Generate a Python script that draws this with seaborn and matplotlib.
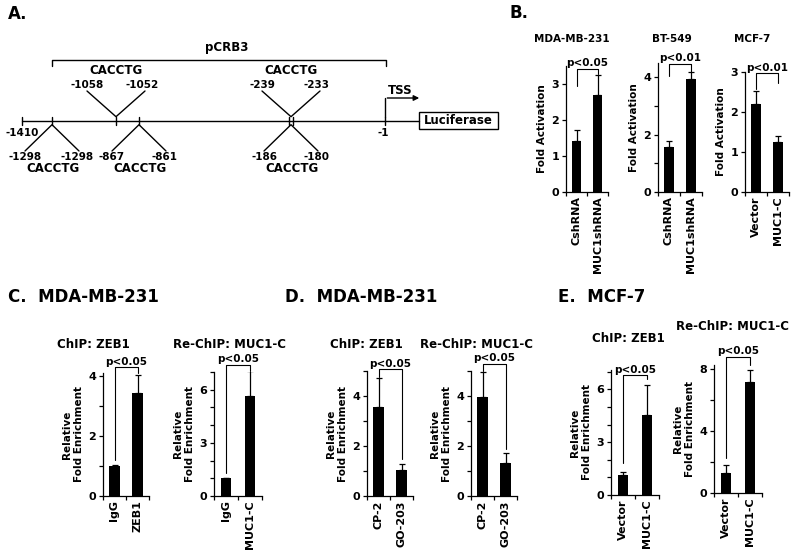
import matplotlib
matplotlib.use("Agg")
import matplotlib.pyplot as plt
import seaborn as sns
import pandas as pd

# ---- data ----
# A: CACCTG sites in the CRB3 promoter (pairs of start/end)
site_left = [-1298, -1058, -867, -239, -186]
site_right = [-1298, -1052, -861, -233, -180]
site_side = ["down", "up", "down", "up", "down"]
motif = "CACCTG"
promoter_ends = [-1410, -1]

# B: luciferase activity
b_titles = ["MDA-MB-231", "BT-549", "MCF-7"]
b_groups = [["CshRNA", "MUC1shRNA"], ["CshRNA", "MUC1shRNA"], ["Vector", "MUC1-C"]]
b_means = [[1.43, 2.70], [1.57, 3.93], [2.21, 1.24]]
b_errs = [[0.29, 0.56], [0.22, 0.26], [0.32, 0.17]]
b_p = ["p<0.05", "p<0.01", "p<0.01"]

# C-E: ChIP / Re-ChIP
chip_titles = ["ChIP: ZEB1", "Re-ChIP: MUC1-C"]
c_groups = [["IgG", "ZEB1"], ["IgG", "MUC1-C"]]
c_means = [[1.0, 3.43], [1.0, 5.65]]
c_errs = [[0.02, 0.60], [0.02, 1.40]]
d_groups = [["CP-2", "GO-203"], ["CP-2", "GO-203"]]
d_means = [[3.56, 1.05], [3.96, 1.31]]
d_errs = [[1.17, 0.25], [1.00, 0.40]]
e_groups = [["Vector", "MUC1-C"], ["Vector", "MUC1-C"]]
e_means = [[1.13, 4.55], [1.27, 7.15]]
e_errs = [[0.20, 1.68], [0.53, 0.80]]
chip_p = "p<0.05"

sns.set_style("ticks")
plt.rcParams["font.family"] = ["DejaVu Sans"]
plt.rcParams["font.weight"] = "bold"
plt.rcParams["axes.labelweight"] = "bold"
plt.rcParams["axes.linewidth"] = 0.9
for key in ["text.color", "axes.labelcolor", "xtick.color", "ytick.color", "axes.edgecolor"]:
    plt.rcParams[key] = "black"

W, H = 800, 558
fig = plt.figure(figsize=(8, 5.58), dpi=100)


def box(x0, y0, x1, y1):
    return [x0 / W, 1 - y1 / H, (x1 - x0) / W, (y1 - y0) / H]


def label(x, y, s, size, **kw):
    fig.text(x / W, 1 - y / H, s, fontsize=size, fontweight="bold", va="center", **kw)


def bar_panel(rect, groups, means, errs, ymax, yticks, ylabels, ylabel, bracket, ptext):
    ax = fig.add_axes(box(*rect))
    df = pd.DataFrame({"group": groups, "value": means})
    sns.barplot(data=df, x="group", y="value", color="black", width=0.45,
                errorbar=None, saturation=1, linewidth=0, ax=ax)
    ax.errorbar(df.index, df["value"], yerr=[[0, 0], errs], fmt="none",
                ecolor="black", elinewidth=0.9, capsize=2.5, capthick=0.9)
    ax.set_xlim(-0.5, 1.5)
    ax.set_ylim(0, ymax)
    ax.set_xticks([0, 1])
    ax.set_xticklabels(groups, rotation=90, fontsize=8, fontweight="bold")
    ax.set_xticks([-0.5, 0.5, 1.5], minor=True)
    ax.tick_params(axis="x", which="major", length=0, pad=3)
    ax.tick_params(axis="x", which="minor", length=3, width=0.9)
    ax.set_yticks(yticks)
    ax.set_yticklabels(ylabels, fontsize=8, fontweight="bold")
    ax.tick_params(axis="y", length=3, width=0.9, pad=2)
    ax.set_xlabel("")
    ax.set_ylabel(ylabel, fontsize=7.5, labelpad=3)
    sns.despine(ax=ax)
    lb, top, rb = bracket
    ax.plot([0, 0, 1, 1], [lb, top, top, rb], color="black", lw=0.8, clip_on=False)
    ax.annotate(ptext, xy=(0.5, top), xytext=(0, 0.5), textcoords="offset points",
                ha="center", va="bottom", fontsize=7.5, fontweight="bold",
                annotation_clip=False)
    return ax


# ---- panel A: promoter schematic (drawn in pixel units) ----
axA = fig.add_axes([0, 0, 1, 1], zorder=-1)
axA.set_xlim(0, W)
axA.set_ylim(H, 0)
axA.axis("off")
k = dict(color="black", lw=1.0)
line_y = 120.7
axA.plot([22, 419], [line_y, line_y], **k)
for tx in [22, 52, 116, 139, 289, 293, 385]:
    axA.plot([tx, tx], [116.5, 125], **k)
axA.text(22, 133, str(promoter_ends[0]), ha="center", va="center", fontsize=7.5, fontweight="bold")
axA.text(383, 133, str(promoter_ends[1]), ha="center", va="center", fontsize=7.5, fontweight="bold")

site_px = [52, 116, 139, 291, 291]
for sx, side, l, r in zip(site_px, site_side, site_left, site_right):
    if side == "up":
        axA.plot([sx - 29, sx, sx + 29], [91, line_y - 4, 91], **k)
        axA.text(sx - 29, 85, str(l), ha="center", va="center", fontsize=7.5, fontweight="bold")
        axA.text(sx + 26, 85, str(r), ha="center", va="center", fontsize=7.5, fontweight="bold")
        axA.text(sx, 70, motif, ha="center", va="center", fontsize=8.5, fontweight="bold")
    else:
        axA.plot([sx - 27, sx, sx + 27], [151, line_y + 4, 151], **k)
        axA.text(sx - 27, 157, str(l), ha="center", va="center", fontsize=7.5, fontweight="bold")
        axA.text(sx + 25, 157, str(r), ha="center", va="center", fontsize=7.5, fontweight="bold")
        axA.text(sx + 1, 169, motif, ha="center", va="center", fontsize=8.5, fontweight="bold")

axA.plot([52, 52, 386, 386], [65.5, 60, 60, 65.5], **k)
axA.text(227, 47, "pCRB3", ha="center", va="center", fontsize=8.5, fontweight="bold")
axA.plot([385, 385], [line_y - 4, 98], **k)
axA.annotate("", xy=(422, 98), xytext=(384.5, 98),
             arrowprops=dict(arrowstyle="-|>", color="black", lw=1.0, mutation_scale=8))
axA.text(400, 90, "TSS", ha="center", va="center", fontsize=8.5, fontweight="bold")
axA.add_patch(plt.Rectangle((419, 112), 79, 16.5, fill=False, ec="black", lw=1.0))
axA.text(458.5, 120.5, "Luciferase", ha="center", va="center", fontsize=8.5, fontweight="bold")

# ---- panel B ----
b_rects = [(566, 66, 608, 192), (658, 63, 702, 192), (745, 72, 789, 192)]
b_ymax = [3.5, 4.5, 3.0]
b_ticks = [[0, 1, 2, 3], [0, 1, 2, 3, 4], [0, 1, 2, 3]]
b_ticklabels = [["0", "1", "2", "3"], ["0", "", "2", "", "4"], ["0", "1", "2", "3"]]
b_brackets = [(2.95, 3.43, 3.28), (4.05, 4.46, 4.2), (2.58, 2.97, 2.73)]
for i in range(3):
    bar_panel(b_rects[i], b_groups[i], b_means[i], b_errs[i], b_ymax[i], b_ticks[i],
              b_ticklabels[i], "Fold Activation", b_brackets[i], b_p[i])
for x, t in zip([572, 672, 752], b_titles):
    label(x, 39, t, 7.5, ha="center")

# ---- panels C, D, E ----
ylab = "Relative\nFold Enrichment"
panels = [
    # rect, groups, means, errs, ymax, ticks, labels, bracket
    ((103, 373, 149, 496), c_groups[0], c_means[0], c_errs[0], 4.1,
     [0, 1, 2, 3, 4], ["0", "", "2", "", "4"], (1.2, 4.29, 4.09)),
    ((214, 372, 262, 496), c_groups[1], c_means[1], c_errs[1], 7.0,
     list(range(8)), ["0", "", "", "3", "", "", "6", ""], (1.28, 7.4, 7.04)),
    ((367, 371, 413, 496), d_groups[0], d_means[0], d_errs[0], 5.0,
     list(range(6)), ["0", "", "2", "", "4", ""], (4.77, 5.07, 1.5)),
    ((471, 371, 517, 496), d_groups[1], d_means[1], d_errs[1], 5.0,
     list(range(6)), ["0", "", "2", "", "4", ""], (4.99, 5.28, 1.9)),
    ((611, 370, 659, 495), e_groups[0], e_means[0], e_errs[0], 7.1,
     list(range(8)), ["0", "", "", "3", "", "", "6", ""], (1.8, 6.8, 6.6)),
    ((714, 365, 762, 493), e_groups[1], e_means[1], e_errs[1], 8.25,
     [0, 2, 4, 6, 8], ["0", "", "4", "", "8"], (2.25, 8.76, 8.26)),
]
for rect, g, m, e, ymax, ticks, tl, br in panels:
    bar_panel(rect, g, m, e, ymax, ticks, tl, ylab, br, chip_p)

title_pos = [(93, 345), (230, 345), (366, 345), (476, 345), (628, 339), (733, 327)]
for j, (x, y) in enumerate(title_pos):
    label(x, y, chip_titles[j % 2], 8.5, ha="center")

label(8, 14, "A.", 12, ha="left")
label(510, 13, "B.", 12, ha="left")
label(8, 297, "C.  MDA-MB-231", 12, ha="left")
label(285, 297, "D.  MDA-MB-231", 12, ha="left")
label(558, 297, "E.  MCF-7", 12, ha="left")

fig.savefig("out.png", dpi=100, facecolor="white")
